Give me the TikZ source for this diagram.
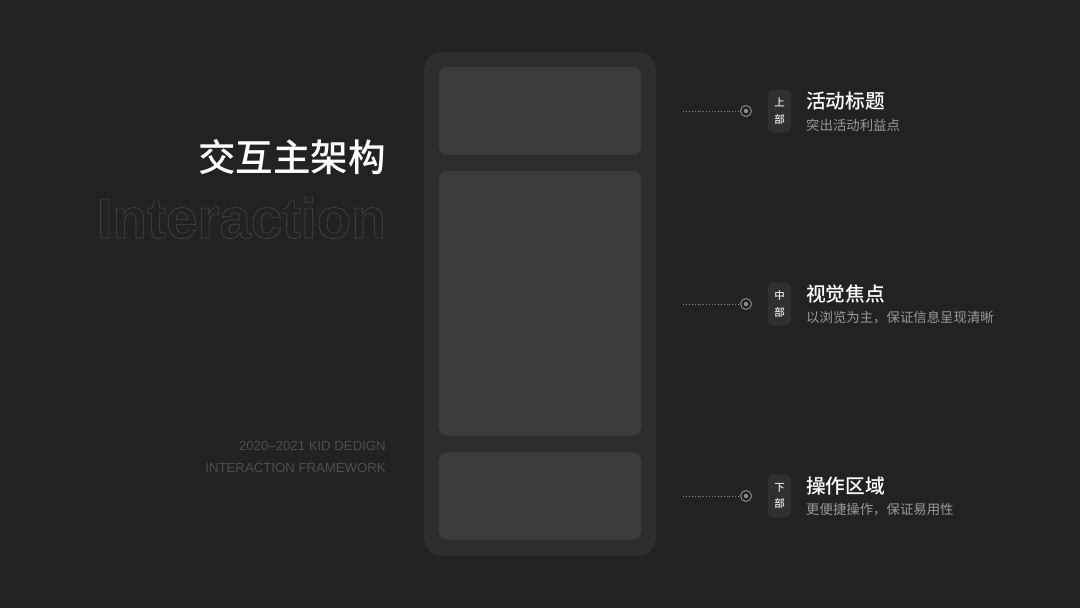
\documentclass[tikz,border=0pt]{standalone}
\usepackage{fontspec}
\setmainfont{Liberation Sans}
\newfontfamily\cjk{Noto Sans CJK SC}
\newfontfamily\cjkm{Noto Sans CJK SC Medium}
\definecolor{bg}{HTML}{222222}
\definecolor{phonec}{HTML}{2D2D2D}
\definecolor{panelc}{HTML}{3B3B3B}
\definecolor{badgec}{HTML}{303030}
\definecolor{subc}{HTML}{9A9A9A}
\definecolor{dotc}{HTML}{8A8A8A}
\definecolor{outc}{HTML}{474747}
\definecolor{yearc}{HTML}{4E4E4E}
\tikzset{
  panel/.style={fill=panelc, rounded corners=8pt, draw=none},
  badge/.style={fill=badgec, rounded corners=5pt, minimum width=23pt, minimum height=43pt, inner sep=0pt, align=center, text=white!92!black, font=\cjkm\fontsize{10.5}{16.5}\selectfont},
  ttl/.style={anchor=west, inner sep=0pt, text=white, font=\cjkm\fontsize{19.7}{21}\selectfont},
  sub/.style={anchor=west, inner sep=0pt, text=subc, font=\cjk\fontsize{13.4}{15}\selectfont},
  ring/.style={circle, draw=dotc, line width=1pt, minimum size=11pt, inner sep=0pt},
  leader/.style={dotc, line width=0.9pt, dash pattern=on 0.9pt off 2pt},
  yeartxt/.style={anchor=east, inner sep=0pt, text=yearc, font=\fontsize{13.2}{15}\selectfont},
}
\begin{document}
\begin{tikzpicture}[x=1pt,y=-1pt]
\fill[bg] (0,0) rectangle (1080,608);
\useasboundingbox (0,0) rectangle (1080,608);
% phone
\fill[phonec, rounded corners=18pt] (424,52) rectangle (656,556);
\path[panel] (439,67) rectangle (641,155);
\path[panel] (439,171) rectangle (641,436);
\path[panel] (439,452) rectangle (641,540);
% left title
\node[anchor=east, inner sep=0pt, text=white, font=\cjkm\fontsize{37.5}{40}\selectfont] (title) at (386,157) {交互主架构};
\node[anchor=base east, inner sep=0pt, text=outc, font=\bfseries\fontsize{56.5}{60}\selectfont] (inter) at (386,238) {\special{pdf:code 1 Tr 0.6 w}Interaction\special{pdf:code 0 Tr}};
\node[yeartxt] (yr) at (386,446) {2020--2021 KID DEDIGN};
\node[yeartxt] (fw) at (386,468) {INTERACTION FRAMEWORK};
% items
\foreach \y/\a/\b/\t/\s [count=\i] in {
  111/上/部/活动标题/突出活动利益点,
  304/中/部/视觉焦点/以浏览为主，保证信息呈现清晰,
  496/下/部/操作区域/更便捷操作，保证易用性}{
  \coordinate (start\i) at (683,\y);
  \node[ring] (ring\i) at (746,\y) {};
  \fill[dotc] (ring\i.center) circle (2.2pt);
  \draw[leader] (start\i) -- (ring\i.west);
  \node[badge] (badge\i) at (779.5,\y) {\a\\\b};
  \node[ttl] (ttl\i) at (806,\y-10) {\t};
  \node[sub] (sub\i) at (806,\y+14) {\s};
}
\end{tikzpicture}
\end{document}
